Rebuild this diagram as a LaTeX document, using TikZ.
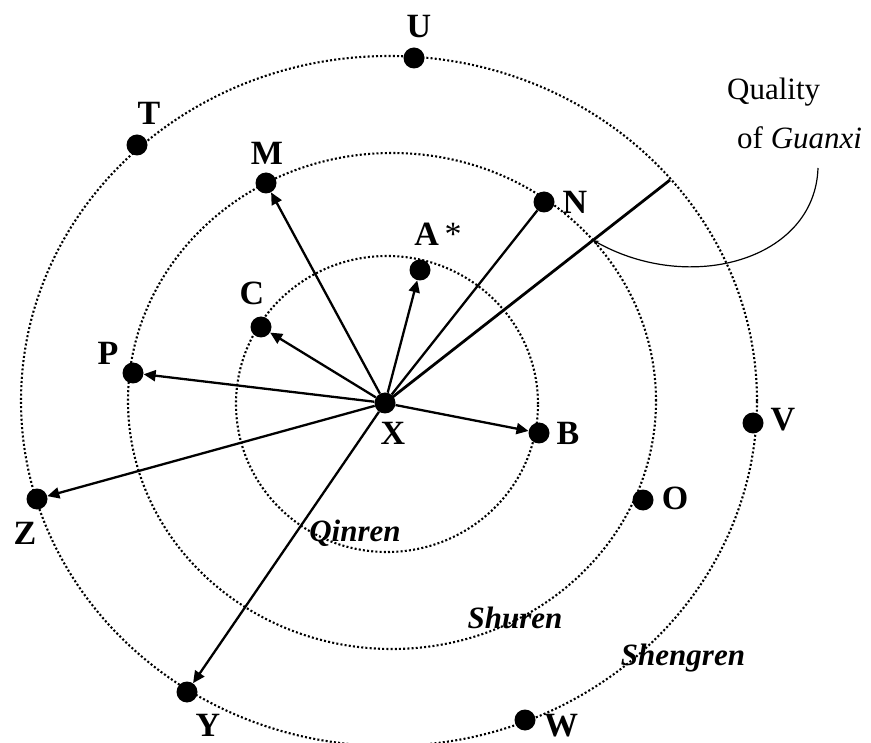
\documentclass[tikz,border=0pt]{standalone}
\usepackage{fontspec}
\setmainfont{Liberation Serif}
\usetikzlibrary{arrows.meta,calc}
\begin{document}
\begin{tikzpicture}[x=1pt,y=-1pt,
  ring/.style={line width=2.1pt, dash pattern=on 2pt off 2.2pt},
  dot/.style={circle, fill=black, inner sep=0pt, minimum size=21pt},
  lbl/.style={font=\fontsize{34}{40}\selectfont\bfseries, inner sep=0pt},
  ringname/.style={font=\fontsize{31}{36}\selectfont\bfseries\itshape, inner sep=0pt},
  note/.style={font=\fontsize{31}{36}\selectfont, inner sep=0pt, anchor=west},
  rel/.style={line width=2.3pt, -{Triangle[length=12pt,width=11pt]}},
  tie/.style={line width=2.3pt},
  quality/.style={line width=2.8pt},
  callout/.style={line width=1.2pt, -{Stealth[length=6pt,width=5pt]}},
]
\fill[white] (0,0) rectangle (871,743);
\useasboundingbox (0,0) rectangle (871,743);

% rings
\draw[ring] (387,404) ellipse [x radius=151pt, y radius=148pt];
\draw[ring] (392,401) ellipse [x radius=264pt, y radius=248pt];
\draw[ring] (389,401) ellipse [x radius=368pt, y radius=345pt];

% dots
\node[dot] (X) at (385,403) {};
\node[dot] (A) at (420,270) {};
\node[dot] (C) at (261,327) {};
\node[dot] (B) at (539,433) {};
\node[dot] (M) at (266,183) {};
\node[dot] (N) at (544,202) {};
\node[dot] (P) at (133,373) {};
\node[dot] (O) at (643,500) {};
\node[dot] (U) at (414,58) {};
\node[dot] (T) at (137,145) {};
\node[dot] (V) at (753,423) {};
\node[dot] (Z) at (37,499) {};
\node[dot] (Y) at (187,692) {};
\node[dot] (W) at (525,720) {};
\coordinate (G) at (670,180);

% relations
\draw[rel] (X) -- (M);
\draw[rel] (X) -- (A);
\draw[rel] (X) -- (C);
\draw[rel] (X) -- (P);
\draw[rel] (X) -- (B);
\draw[rel] (X) -- (Z);
\draw[rel] (X) -- (Y);
\draw[tie] (X) -- (N);
\draw[quality] (X.center) -- (G);

% labels
\node[lbl] (lU) at (419,27) {U};
\node[lbl] (lT) at (149,113) {T};
\node[lbl] (lM) at (267,153) {M};
\node[lbl] (lA) at (438,234) {A\,\textmd{*}};
\node[lbl] (lC) at (252,293) {C};
\node[lbl] (lP) at (108,353) {P};
\node[lbl] (lN) at (575,202) {N};
\node[lbl] (lX) at (393,433) {X};
\node[lbl] (lB) at (568,433) {B};
\node[lbl] (lV) at (783,420) {V};
\node[lbl] (lO) at (675,498) {O};
\node[lbl] (lZ) at (25,533) {Z};
\node[lbl] (lY) at (208,725) {Y};
\node[lbl] (lW) at (561,726) {W};

\node[ringname] (qin) at (355,533) {Qinren};
\node[ringname] (shu) at (515,618) {Shuren};
\node[ringname] (sheng) at (683,658) {Shengren};

% callout
\node[note] (q1) at (727,92) {Quality};
\node[note] (q2) at (737,138) {of \textit{Guanxi}};
\coordinate (Qs) at (818,168);
\coordinate (H) at ($(X.center)!0.73!(G)$);
\draw[callout] (Qs) .. controls (815,260) and (690,295) .. (H);
\end{tikzpicture}
\end{document}
